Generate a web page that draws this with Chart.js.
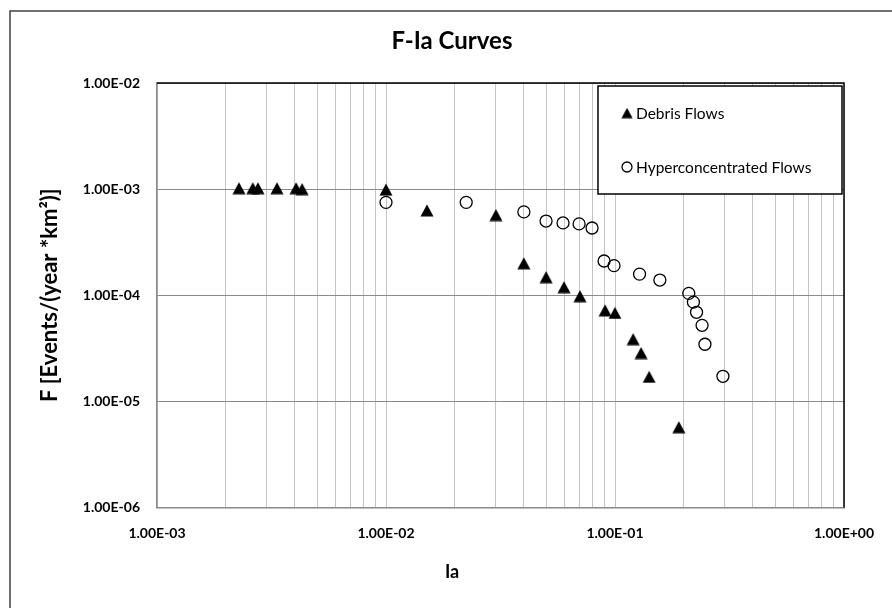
<!DOCTYPE html>
<html>
<head>
<meta charset="utf-8">
<script src="https://cdn.jsdelivr.net/npm/chart.js@4.4.0/dist/chart.umd.min.js"></script>
<style>
  html, body { margin: 0; padding: 0; background: #fff; }
</style>
</head>
<body>
<canvas id="chart" width="892" height="608"></canvas>
<script>
// values (Ia, F)
const debrisIa = [0.00228, 0.00262, 0.00276, 0.00334, 0.00405, 0.0043, 0.0100, 0.0151, 0.0302, 0.0400,
                  0.0500, 0.0599, 0.0703, 0.0905, 0.100, 0.120, 0.130, 0.141, 0.190];
const debrisF = [1.02e-3, 1.02e-3, 1.02e-3, 1.02e-3, 1.02e-3, 1.0e-3, 0.99e-3, 6.3e-4, 5.7e-4, 2.0e-4,
                 1.48e-4, 1.19e-4, 9.8e-5, 7.2e-5, 6.8e-5, 3.85e-5, 2.85e-5, 1.7e-5, 5.7e-6];
const hyperIa = [0.0100, 0.0224, 0.0400, 0.0500, 0.0593, 0.0697, 0.0794, 0.0896, 0.0990, 0.128,
                 0.157, 0.210, 0.220, 0.227, 0.240, 0.247, 0.296];
const hyperF = [7.5e-4, 7.5e-4, 6.1e-4, 5.0e-4, 4.8e-4, 4.7e-4, 4.3e-4, 2.1e-4, 1.9e-4, 1.58e-4,
                1.39e-4, 1.04e-4, 8.6e-5, 6.9e-5, 5.2e-5, 3.45e-5, 1.72e-5];

const seriesLabels = ['Debris Flows', 'Hyperconcentrated Flows'];

const xDecades = [0.001, 0.01, 0.1, 1];
const xTickLabels = ['1.00E-03', '1.00E-02', '1.00E-01', '1.00E+00'];
const yDecades = [1e-6, 1e-5, 1e-4, 1e-3, 1e-2];
const yTickLabels = ['1.00E-06', '1.00E-05', '1.00E-04', '1.00E-03', '1.00E-02'];

// x gridlines at 1..9 of every decade
const xGridValues = [];
xDecades.forEach((d, i) => {
  if (i === xDecades.length - 1) { xGridValues.push(d); return; }
  for (let m = 1; m <= 9; m++) xGridValues.push(m * d);
});

const labelFor = (decades, labels) => (value) => {
  const i = decades.findIndex(d => Math.abs(d - value) / d < 1e-6);
  return i >= 0 ? labels[i] : '';
};

// filled triangle marker, centred on its bounding box like Excel does
const triangle = document.createElement('canvas');
triangle.width = 14;
triangle.height = 13;
(() => {
  const c = triangle.getContext('2d');
  c.fillStyle = '#000';
  c.beginPath();
  c.moveTo(7, 0.5);
  c.lineTo(13.5, 12.5);
  c.lineTo(0.5, 12.5);
  c.closePath();
  c.fill();
})();

const FONT = 'Lato';

const framePlugin = {
  id: 'frame',
  beforeDraw(chart) {
    const ctx = chart.ctx;
    ctx.save();
    ctx.fillStyle = '#fff';
    ctx.fillRect(0, 0, chart.width, chart.height);
    ctx.strokeStyle = '#404040';
    ctx.lineWidth = 1.5;
    ctx.strokeRect(10, 11, chart.width + 20, chart.height + 20);
    ctx.restore();
  },
  beforeDatasetsDraw(chart) {
    const { ctx, chartArea: a } = chart;
    ctx.save();
    ctx.strokeStyle = '#000';
    ctx.lineWidth = 1.5;
    ctx.beginPath();
    ctx.moveTo(a.left, a.top);
    ctx.lineTo(a.right, a.top);
    ctx.lineTo(a.right, a.bottom);
    ctx.stroke();
    ctx.restore();
  },
  afterDatasetsDraw(chart) {
    // legend box inside the plot, top right
    const { ctx, chartArea: a } = chart;
    const left = a.right - 246, top = a.top + 3, w = 244, h = 108;
    ctx.save();
    ctx.fillStyle = '#fff';
    ctx.fillRect(left, top, w, h);
    ctx.strokeStyle = '#000';
    ctx.lineWidth = 1.5;
    ctx.strokeRect(left, top, w, h);
    ctx.font = '15.5px ' + FONT;
    ctx.textBaseline = 'middle';
    ctx.fillStyle = '#000';
    chart.data.datasets.forEach((ds, i) => {
      const mx = left + 29, my = top + 27 + i * 54;
      if (i === 0) {
        ctx.drawImage(triangle, mx - 6, my - 5.5, 12, 11);
      } else {
        ctx.beginPath();
        ctx.arc(mx, my, 5, 0, Math.PI * 2);
        ctx.lineWidth = 1.3;
        ctx.stroke();
      }
      ctx.fillText(ds.label, left + 38, my + 1);
    });
    ctx.restore();
  }
};

new Chart(document.getElementById('chart'), {
  type: 'scatter',
  data: {
    datasets: [
      {
        label: seriesLabels[0],
        data: debrisIa.map((x, i) => ({ x, y: debrisF[i] })),
        pointStyle: triangle,
        pointRadius: 7,
        pointBackgroundColor: '#000',
        pointBorderColor: '#000'
      },
      {
        label: seriesLabels[1],
        data: hyperIa.map((x, i) => ({ x, y: hyperF[i] })),
        pointStyle: 'circle',
        pointRadius: 6,
        pointBorderWidth: 1.3,
        pointBorderColor: '#000',
        pointBackgroundColor: 'rgba(0,0,0,0)'
      }
    ]
  },
  options: {
    responsive: false,
    animation: false,
    layout: { padding: { left: 31, right: 19, top: 0, bottom: 0 } },
    plugins: {
      legend: { display: false },
      tooltip: { enabled: false },
      title: {
        display: true,
        text: 'F-Ia Curves',
        color: '#000',
        font: { family: FONT, size: 24, weight: 'bold' },
        padding: { top: 27, bottom: 27.2 }
      },
      subtitle: {
        display: true,
        position: 'bottom',
        text: 'Ia',
        color: '#000',
        font: { family: FONT, size: 18, weight: 'bold' },
        padding: { top: 19, bottom: 25 }
      }
    },
    scales: {
      x: {
        type: 'logarithmic',
        min: 0.001,
        max: 1,
        afterBuildTicks: s => { s.ticks = xGridValues.map(v => ({ value: v })); },
        // paddingRight is measured from the canvas edge
        afterFit: s => { s.height = 35; s.paddingLeft = 0; s.paddingRight = 48; },
        ticks: {
          autoSkip: false,
          maxRotation: 0,
          padding: 18,
          color: '#000',
          font: { family: FONT, size: 14, weight: 'bold' },
          callback: labelFor(xDecades, xTickLabels)
        },
        grid: { color: '#c4c4c4', lineWidth: 1, drawTicks: false },
        border: { color: '#8a8a8a', width: 1.5 }
      },
      y: {
        type: 'logarithmic',
        min: 1e-6,
        max: 1e-2,
        afterBuildTicks: s => { s.ticks = yDecades.map(v => ({ value: v })); },
        afterFit: s => { s.width = 126; },
        ticks: {
          autoSkip: false,
          padding: 17,
          color: '#000',
          font: { family: FONT, size: 14, weight: 'bold' },
          callback: labelFor(yDecades, yTickLabels)
        },
        grid: { color: '#8a8a8a', lineWidth: 1, drawTicks: false },
        border: { color: '#8a8a8a', width: 1.5 },
        title: {
          display: true,
          text: 'F [Events/(year *km\u00B2)]',
          color: '#000',
          font: { family: FONT, size: 22, weight: 'bold' },
          padding: { top: 6, bottom: 0 }
        }
      }
    }
  },
  plugins: [framePlugin]
});
</script>
</body>
</html>
